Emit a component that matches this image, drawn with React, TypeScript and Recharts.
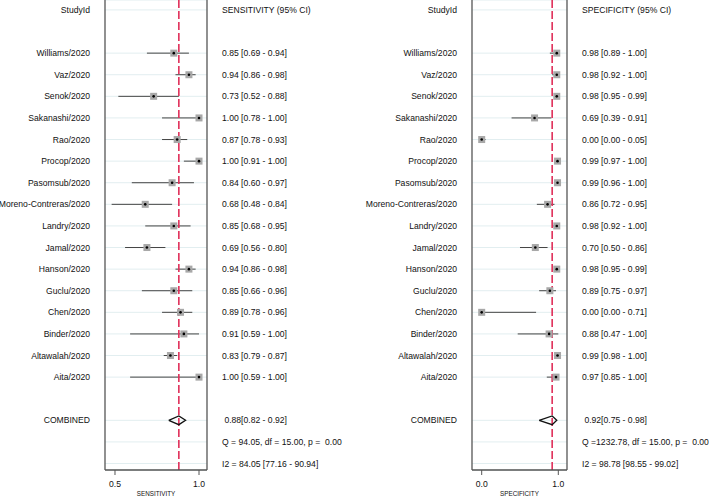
import React from 'react';
import {
  ComposedChart, Scatter, XAxis, YAxis, CartesianGrid, ReferenceLine, ErrorBar,
} from 'recharts';

const studies = [
  'Williams/2020', 'Vaz/2020', 'Senok/2020', 'Sakanashi/2020', 'Rao/2020', 'Procop/2020',
  'Pasomsub/2020', 'Moreno-Contreras/2020', 'Landry/2020', 'Jamal/2020', 'Hanson/2020',
  'Guclu/2020', 'Chen/2020', 'Binder/2020', 'Altawalah/2020', 'Aita/2020',
];

const sens = [0.85, 0.94, 0.73, 1.0, 0.87, 1.0, 0.84, 0.68, 0.85, 0.69, 0.94, 0.85, 0.89, 0.91, 0.83, 1.0];
const sensLo = [0.69, 0.86, 0.52, 0.78, 0.78, 0.91, 0.6, 0.48, 0.68, 0.56, 0.86, 0.66, 0.78, 0.59, 0.79, 0.59];
const sensHi = [0.94, 0.98, 0.88, 1.0, 0.93, 1.0, 0.97, 0.84, 0.95, 0.8, 0.98, 0.96, 0.96, 1.0, 0.87, 1.0];

const spec = [0.98, 0.98, 0.98, 0.69, 0.0, 0.99, 0.99, 0.86, 0.98, 0.7, 0.98, 0.89, 0.0, 0.88, 0.99, 0.97];
const specLo = [0.89, 0.92, 0.95, 0.39, 0.0, 0.97, 0.96, 0.72, 0.92, 0.5, 0.95, 0.75, 0.0, 0.47, 0.98, 0.85];
const specHi = [1.0, 1.0, 0.99, 0.91, 0.05, 1.0, 1.0, 0.95, 1.0, 0.86, 0.99, 0.97, 0.71, 1.0, 1.0, 1.0];

const sensCombined = { est: 0.88, lo: 0.82, hi: 0.92 };
const specCombined = { est: 0.92, lo: 0.75, hi: 0.98 };

const sensQText = 'Q = 94.05, df = 15.00, p = \u00a00.00';
const sensI2Text = 'I2 = 84.05 [77.16 - 90.94]';
const specQText = 'Q =1232.78, df = 15.00, p = \u00a00.00';
const specI2Text = 'I2 = 98.78 [98.55 - 99.02]';

const sensTicks = [0.5, 1.0];
const specTicks = [0.0, 1.0];

const ROW_HEADER = 0;
const ROW_FIRST = 2;
const ROW_COMBINED = 19;
const ROW_Q = 20;
const ROW_I2 = 21;
const rowTicks = [ROW_HEADER, ...studies.map((_, i) => ROW_FIRST + i), ROW_COMBINED, ROW_Q, ROW_I2];

const FONT = '"Liberation Sans", Arial, Helvetica, sans-serif';
const AXIS_COLOR = '#555';
const FS = 8.6;

const fmt = (v: number) => v.toFixed(2);

const Marker = (props: any) => {
  const { cx, cy } = props;
  if (cx == null || cy == null) return <g />;
  return (
    <g>
      <rect x={cx - 3.5} y={cy - 3.5} width={7} height={7} fill="#a8a8a8" />
      <circle cx={cx} cy={cy} r={1.3} fill="#000" />
    </g>
  );
};

const NoShape = () => <g />;

const makeRowTick = (labelFn: (r: number) => string, anchor: 'start' | 'end') => (props: any) => {
  const { x, y, payload } = props;
  const label = labelFn(payload.value);
  if (!label) return <g />;
  return (
    <text x={x} y={y} dy="0.35em" textAnchor={anchor} fontSize={FS} fontFamily={FONT} fill="#111">
      {label}
    </text>
  );
};

type PanelProps = {
  est: number[];
  lo: number[];
  hi: number[];
  combined: { est: number; lo: number; hi: number };
  header: string;
  qText: string;
  i2Text: string;
  ticks: number[];
  xDomain: [number, number];
  axisLabel: string;
  width: number;
  leftW: number;
  rightW: number;
};

const Panel = (p: PanelProps) => {
  const points = p.est.map((v, i) => ({
    x: v,
    y: ROW_FIRST + i,
    err: [v - p.lo[i], p.hi[i] - v],
  }));
  const h = 0.2;
  const c = p.combined;
  const diamond = [
    { x: c.lo, y: ROW_COMBINED },
    { x: c.est, y: ROW_COMBINED - h },
    { x: c.hi, y: ROW_COMBINED },
    { x: c.est, y: ROW_COMBINED + h },
    { x: c.lo, y: ROW_COMBINED },
  ];
  const leftLabel = (r: number) => {
    if (r === ROW_HEADER) return 'StudyId';
    if (r === ROW_COMBINED) return 'COMBINED';
    const i = r - ROW_FIRST;
    if (i >= 0 && i < studies.length) return studies[i];
    return '';
  };
  const rightLabel = (r: number) => {
    if (r === ROW_HEADER) return p.header;
    if (r === ROW_COMBINED) return `\u00a0${fmt(c.est)}[${fmt(c.lo)} - ${fmt(c.hi)}]`;
    if (r === ROW_Q) return p.qText;
    if (r === ROW_I2) return p.i2Text;
    const i = r - ROW_FIRST;
    if (i >= 0 && i < studies.length) return `${fmt(p.est[i])} [${fmt(p.lo[i])} - ${fmt(p.hi[i])}]`;
    return '';
  };
  const tickStyle = { fill: '#111', fontSize: FS, fontFamily: FONT };
  return (
    <ComposedChart
      width={p.width}
      height={497}
      margin={{ top: 0, right: 0, bottom: 0, left: 0 }}
      style={{ fontFamily: FONT, overflow: 'visible' }}
    >
      <CartesianGrid yAxisId="right" vertical={false} stroke="#e2eef0" strokeWidth={1} />
      <XAxis
        type="number"
        dataKey="x"
        domain={p.xDomain}
        allowDataOverflow
        ticks={p.ticks}
        interval={0}
        tickFormatter={(v: number) => v.toFixed(1)}
        height={27}
        tickSize={5}
        tickMargin={5.5}
        tick={tickStyle}
        axisLine={{ stroke: AXIS_COLOR, strokeWidth: 1.3 }}
        tickLine={{ stroke: AXIS_COLOR, strokeWidth: 1 }}
        label={{ value: p.axisLabel, position: 'insideBottom', offset: 1.5, fontSize: 6.3, fill: '#111', fontFamily: FONT }}
      />
      <YAxis
        yAxisId="left"
        orientation="left"
        type="number"
        dataKey="y"
        reversed
        domain={[-0.46, 21.3]}
        allowDataOverflow
        ticks={rowTicks}
        interval={0}
        width={p.leftW}
        tickLine={false}
        tickSize={0}
        tickMargin={15}
        tick={makeRowTick(leftLabel, 'end')}
        axisLine={{ stroke: AXIS_COLOR, strokeWidth: 1.3 }}
      />
      <YAxis
        yAxisId="right"
        orientation="right"
        type="number"
        reversed
        domain={[-0.46, 21.3]}
        allowDataOverflow
        ticks={rowTicks}
        interval={0}
        width={p.rightW}
        tickLine={false}
        tickSize={0}
        tickMargin={15}
        tick={makeRowTick(rightLabel, 'start')}
        axisLine={{ stroke: AXIS_COLOR, strokeWidth: 1.3 }}
      />
      <Scatter
        yAxisId="left"
        data={points}
        dataKey="y"
        shape={Marker}
        isAnimationActive={false}
      >
        <ErrorBar dataKey="err" direction="x" width={0} stroke="#444" strokeWidth={1} isAnimationActive={false} />
      </Scatter>
      <Scatter
        yAxisId="left"
        data={diamond}
        dataKey="y"
        shape={NoShape}
        line={{ stroke: '#111', strokeWidth: 1.3 }}
        lineType="joint"
        isAnimationActive={false}
      />
      <ReferenceLine
        yAxisId="left"
        x={c.est}
        stroke="#e0305a"
        strokeWidth={1.6}
        strokeDasharray="8 3"
      />
    </ComposedChart>
  );
};

export default function App() {
  return (
    <div style={{ position: 'fixed', left: 0, top: 0, width: 709, height: 497, background: '#fff', overflow: 'hidden' }}>
      <div style={{ position: 'absolute', left: 0, top: 0 }}>
        <Panel
          est={sens}
          lo={sensLo}
          hi={sensHi}
          combined={sensCombined}
          header="SENSITIVITY (95% CI)"
          qText={sensQText}
          i2Text={sensI2Text}
          ticks={sensTicks}
          xDomain={[0.4405, 1.0476]}
          axisLabel="SENSITIVITY"
          width={360}
          leftW={105}
          rightW={153}
        />
      </div>
      <div style={{ position: 'absolute', left: 360, top: 0 }}>
        <Panel
          est={spec}
          lo={specLo}
          hi={specHi}
          combined={specCombined}
          header="SPECIFICITY (95% CI)"
          qText={specQText}
          i2Text={specI2Text}
          ticks={specTicks}
          xDomain={[-0.1266, 1.1136]}
          axisLabel="SPECIFICITY"
          width={349}
          leftW={112}
          rightW={142}
        />
      </div>
    </div>
  );
}
